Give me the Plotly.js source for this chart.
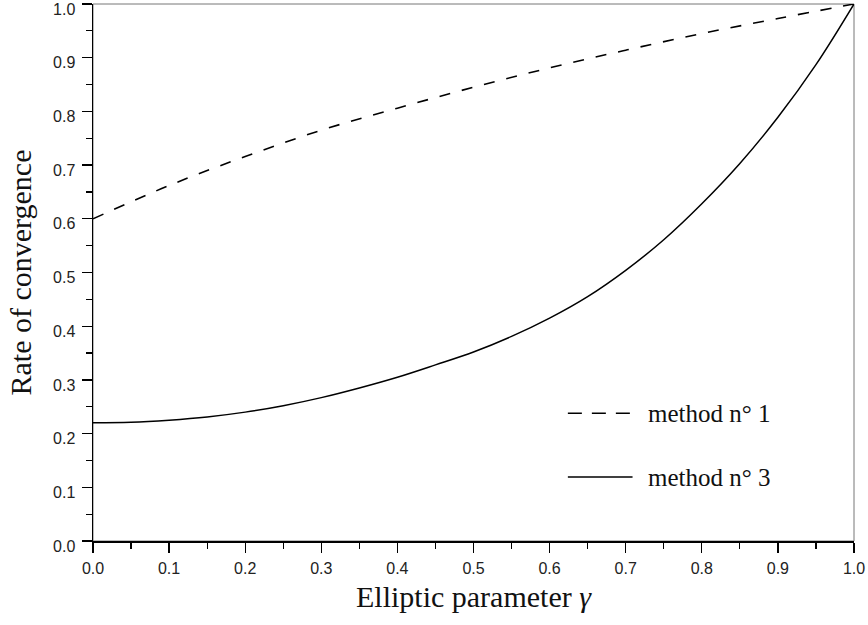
<!DOCTYPE html>
<html>
<head>
<meta charset="utf-8">
<script src="https://cdn.plot.ly/plotly-3.0.1.min.js"></script>
<style>html,body{margin:0;padding:0;background:#fff;}#chart{width:868px;height:625px;}</style>
</head>
<body>
<div id="chart"></div>
<script>
// Elliptic parameter gamma
const gamma1 = [0.0, 0.1, 0.2, 0.3, 0.4, 0.5, 0.6, 0.7, 0.8, 0.9, 1.0];
// Rate of convergence, method n° 1 (dashed)
const method1 = [0.600, 0.662, 0.716, 0.765, 0.806, 0.845, 0.881, 0.914, 0.945, 0.973, 1.000];

const gamma3 = [0.0, 0.05, 0.1, 0.15, 0.2, 0.25, 0.3, 0.35, 0.4, 0.45, 0.5,
                0.55, 0.6, 0.65, 0.7, 0.75, 0.8, 0.85, 0.9, 0.95, 1.0];
// Rate of convergence, method n° 3 (solid)
const method3 = [0.220, 0.221, 0.225, 0.231, 0.240, 0.252, 0.267, 0.285, 0.305, 0.328, 0.352,
                 0.381, 0.415, 0.455, 0.504, 0.561, 0.628, 0.703, 0.789, 0.887, 1.000];

const legendLabels = ["method n° 1", "method n° 3"];
const tickVals = [0, 0.1, 0.2, 0.3, 0.4, 0.5, 0.6, 0.7, 0.8, 0.9, 1.0];
const tickText = ["0.0", "0.1", "0.2", "0.3", "0.4", "0.5", "0.6", "0.7", "0.8", "0.9", "1.0"];

const traces = [
  {x: gamma1, y: method1, type: 'scatter', mode: 'lines', name: legendLabels[0],
   line: {color: '#000', width: 1.6, dash: '11px,12px', shape: 'spline'}, showlegend: false, cliponaxis: false},
  {x: gamma3, y: method3, type: 'scatter', mode: 'lines', name: legendLabels[1],
   line: {color: '#000', width: 1.5, shape: 'spline'}, showlegend: false, cliponaxis: false}
];

const tickFont = {family: 'Liberation Sans, Arial, sans-serif', size: 16, color: '#222'};
const titleFont = {family: 'Liberation Serif, Times New Roman, serif', size: 30, color: '#111'};
const legFont = {family: 'Liberation Serif, Times New Roman, serif', size: 25, color: '#111'};

const axisCommon = {
  range: [0, 1], tickmode: 'array', tickvals: tickVals, ticktext: tickText,
  showgrid: false, zeroline: false, showline: true, linecolor: '#000', linewidth: 1.5,
  ticks: 'outside', ticklen: 10, tickwidth: 1.3, tickcolor: '#000', tickfont: tickFont,
  ticklabeloverflow: 'allow',
  minor: {dtick: 0.05, tick0: 0, ticks: 'outside', ticklen: 6, tickwidth: 1.2, tickcolor: '#000', showgrid: false},
  fixedrange: true
};

const layout = {
  width: 868, height: 625,
  margin: {l: 93, r: 14, t: 4, b: 84},
  paper_bgcolor: '#fff', plot_bgcolor: '#fff',
  xaxis: Object.assign({}, axisCommon, {
    ticklabelstandoff: 2,
    title: {text: 'Elliptic parameter <i>γ</i>', font: titleFont, standoff: 10}
  }),
  yaxis: Object.assign({}, axisCommon, {
    ticklabelstandoff: 3,
    ticklabelshift: 5,
    title: {text: 'Rate of convergence', font: titleFont, standoff: 12}
  }),
  shapes: [
    {type: 'rect', xref: 'paper', yref: 'paper', x0: 0, x1: 1, y0: 0, y1: 1,
     line: {color: '#777', width: 1}, layer: 'below'},
    {type: 'line', xref: 'paper', yref: 'paper', x0: 0.624, x1: 0.708, y0: 0.238, y1: 0.238,
     line: {color: '#000', width: 1.5, dash: '14px,10px'}},
    {type: 'line', xref: 'paper', yref: 'paper', x0: 0.624, x1: 0.709, y0: 0.119, y1: 0.119,
     line: {color: '#000', width: 1.5}}
  ],
  annotations: [
    {xref: 'paper', yref: 'paper', x: 0.727, y: 0.238, xanchor: 'left', yanchor: 'middle',
     text: legendLabels[0], showarrow: false, font: legFont},
    {xref: 'paper', yref: 'paper', x: 0.727, y: 0.119, xanchor: 'left', yanchor: 'middle',
     text: legendLabels[1], showarrow: false, font: legFont}
  ],
  showlegend: false
};

Plotly.newPlot('chart', traces, layout, {displayModeBar: false, staticPlot: true});
</script>
</body>
</html>
